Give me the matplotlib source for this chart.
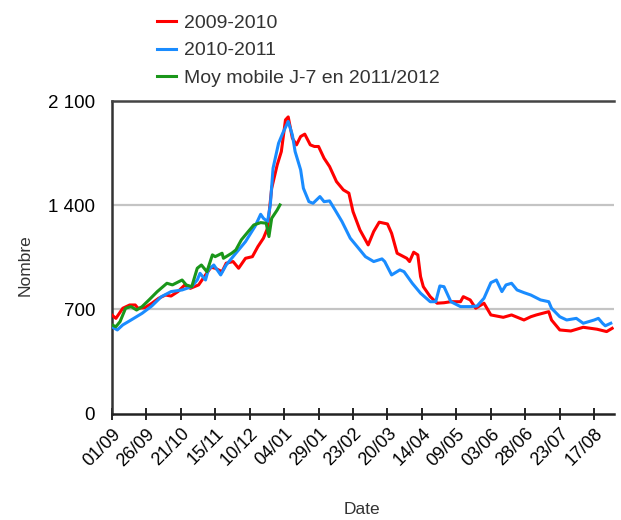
import matplotlib
matplotlib.use("Agg")
import matplotlib.pyplot as plt
from matplotlib.ticker import FuncFormatter

plt.rcParams['font.family'] = ['Liberation Sans', 'DejaVu Sans']

# Days since 01/09
tick_days = [0, 25, 50, 75, 100, 125, 150, 175, 200, 225, 250, 275, 300, 325, 350]
tick_labels = ["01/09", "26/09", "21/10", "15/11", "10/12", "04/01", "29/01", "23/02",
               "20/03", "14/04", "09/05", "03/06", "28/06", "23/07", "17/08"]
y_ticks = [0, 700, 1400, 2100]

red_days = [0, 3, 8, 13, 17, 19, 24, 29, 34, 39, 43, 48, 53, 57, 63, 68, 72, 75, 80, 83,
            88, 92, 97, 102, 106, 110, 113, 116, 120, 123, 126, 128, 131, 134, 137, 140,
            144, 147, 150, 154, 158, 163, 168, 172, 175, 180, 186, 190, 194, 200, 203,
            207, 214, 216, 219, 222, 224, 226, 231, 236, 241, 246, 253, 255, 260, 264,
            270, 275, 284, 290, 299, 304, 308, 317, 319, 325, 333, 342, 352, 359, 363]
red_vals = [663, 640, 708, 730, 730, 708, 712, 741, 775, 797, 790, 820, 865, 842, 865, 932,
            984, 977, 954, 1011, 1022, 977, 1044, 1055, 1123, 1179, 1246, 1515, 1672, 1762,
            1975, 1995, 1852, 1807, 1863, 1879, 1807, 1796, 1796, 1717, 1661, 1560, 1504,
            1482, 1358, 1235, 1134, 1224, 1287, 1275, 1212, 1078, 1044, 1022, 1085, 1067,
            921, 853, 786, 742, 745, 752, 752, 786, 764, 708, 742, 663, 647, 663, 629, 651,
            663, 685, 629, 562, 555, 580, 567, 551, 573]

blue_days = [0, 4, 8, 14, 22, 29, 36, 43, 51, 58, 62, 64, 68, 70, 74, 79, 83, 90, 97, 104,
             108, 110, 113, 115, 117, 121, 124, 128, 131, 133, 137, 139, 143, 146, 151, 154,
             158, 162, 167, 173, 178, 184, 190, 196, 198, 203, 209, 212, 218, 224, 231, 235,
             238, 241, 246, 253, 260, 265, 270, 275, 279, 283, 286, 290, 294, 299, 304, 311,
             317, 319, 325, 330, 337, 342, 350, 353, 356, 358, 362]
blue_vals = [584, 562, 596, 629, 674, 723, 786, 820, 831, 853, 898, 943, 898, 966, 999, 932,
             999, 1078, 1156, 1260, 1340, 1313, 1291, 1403, 1650, 1818, 1885, 1964, 1874,
             1762, 1639, 1515, 1425, 1414, 1459, 1425, 1430, 1369, 1291, 1179, 1123, 1055,
             1022, 1040, 1022, 932, 966, 954, 876, 809, 752, 752, 858, 853, 752, 719, 719,
             723, 775, 880, 898, 820, 865, 876, 831, 813, 797, 764, 752, 708, 651, 629, 640,
             607, 629, 640, 607, 590, 607]

green_days = [0, 3, 6, 10, 14, 18, 22, 27, 33, 40, 44, 51, 54, 58, 62, 65, 69, 73, 75, 80,
              81, 87, 90, 94, 99, 103, 108, 112, 114, 116, 120, 122]
green_vals = [596, 584, 618, 708, 719, 696, 719, 764, 820, 876, 865, 898, 865, 853, 977, 999,
              954, 1067, 1055, 1078, 1044, 1078, 1100, 1168, 1224, 1268, 1284, 1280, 1190,
              1313, 1369, 1403]

labels = ["2009-2010", "2010-2011", "Moy mobile J-7 en 2011/2012"]
colors = ["#ff0000", "#1a8cff", "#1a961a"]

fig = plt.figure(figsize=(6.21, 5.2), dpi=100)
ax = fig.add_axes([0.18, 0.2048, 0.808, 0.6004])

for yv in y_ticks[1:3]:
    ax.axhline(yv, color="#c4c4c4", lw=1.6, zorder=1)

ax.plot(red_days, red_vals, color=colors[0], lw=2.2, label=labels[0], zorder=3)
ax.plot(blue_days, blue_vals, color=colors[1], lw=2.2, label=labels[1], zorder=4)
ax.plot(green_days, green_vals, color=colors[2], lw=2.2, label=labels[2], zorder=5)

ax.set_xlim(0, 364)
ax.set_ylim(0, 2100)
ax.set_xticks(tick_days)
ax.set_xticklabels(tick_labels, rotation=45, ha="right", rotation_mode="anchor", fontsize=13)
ax.set_yticks(y_ticks)
ax.yaxis.set_major_formatter(FuncFormatter(lambda v, p: f"{int(v):,}".replace(",", " ")))
ax.tick_params(axis="y", length=0, pad=12, labelsize=13.5)
ax.tick_params(axis="x", direction="inout", length=9, width=1.2, pad=4, color="black")

ax.spines["right"].set_visible(False)
ax.spines["top"].set_color("#444444")
ax.spines["top"].set_linewidth(1.8)
ax.spines["left"].set_color("#333333")
ax.spines["left"].set_linewidth(1.8)
ax.spines["bottom"].set_color("#222222")
ax.spines["bottom"].set_linewidth(1.8)

fig.text(362 / 621, 1 - 509 / 520, "Date", ha="center", va="center", fontsize=12.5, color="#333333")
fig.text(25 / 621, 1 - 265 / 520, "Nombre", ha="center", va="center", rotation=90,
         fontsize=12.5, color="#333333")

leg = fig.legend(loc="upper left", bbox_to_anchor=(157 / 621, 1 - 14.5 / 520), frameon=False,
                 fontsize=14, handlelength=1.0, handletextpad=0.4, labelspacing=0.5,
                 borderpad=0, borderaxespad=0)
for t in leg.get_texts():
    t.set_color("#333333")

fig.savefig("out.png", dpi=100)
